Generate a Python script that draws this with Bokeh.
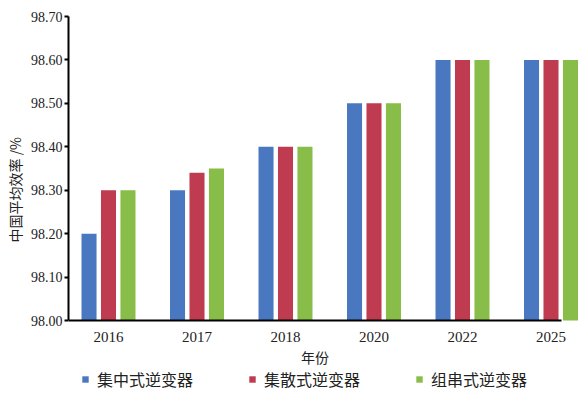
from bokeh.plotting import figure
from bokeh.models import ColumnDataSource, FixedTicker, Legend, LegendItem, NumeralTickFormatter, Title
from bokeh.embed import file_html
from bokeh.resources import INLINE

years = ["2016", "2017", "2018", "2020", "2022", "2025"]
series_names = ["集中式逆变器", "集散式逆变器", "组串式逆变器"]
central = [98.20, 98.30, 98.40, 98.50, 98.60, 98.60]
distributed = [98.30, 98.34, 98.40, 98.50, 98.60, 98.60]
string_inv = [98.30, 98.35, 98.40, 98.50, 98.60, 98.60]
colors = ["#4a78c0", "#bf3b50", "#88bd49"]
y_ticks = [98.0, 98.1, 98.2, 98.3, 98.4, 98.5, 98.6, 98.7]
y_min, y_max = 98.0, 98.7
y_title = "中国平均效率 /%"
x_title = "年份"

px_per_unit = 88.5
x_start = -40 / px_per_unit
x_end = x_start + 512 / px_per_unit
py_per_unit = 304 / (y_max - y_min)
y_start = y_min - 78 / py_per_unit  # room below the axis for labels and legend

p = figure(width=587, height=398, output_backend="svg", toolbar_location=None,
           x_range=(x_start, x_end), y_range=(y_start, y_max),
           min_border_left=68, min_border_right=7, min_border_top=16, min_border_bottom=0)
p.outline_line_color = None
p.xgrid.visible = False
p.ygrid.visible = False
p.background_fill_color = "white"
p.border_fill_color = "white"

xs = list(range(len(years)))
offsets = [-0.22, 0.0, 0.22]
renderers = []
for vals, off, col in zip([central, distributed, string_inv], offsets, colors):
    src = ColumnDataSource(dict(x=[x + off for x in xs], top=vals))
    r = p.vbar(x="x", top="top", bottom=y_min, width=0.17, source=src,
               fill_color=col, line_color=None)
    renderers.append(r)

# x axis
xa = p.xaxis[0]
xa.fixed_location = y_min
xa.ticker = FixedTicker(ticks=xs)
xa.major_label_overrides = {i: y for i, y in enumerate(years)}
xa.bounds = (x_start, (561 - 108) / px_per_unit)
xa.axis_line_width = 2
xa.axis_line_color = "black"
xa.major_tick_line_color = None
xa.minor_tick_line_color = None
xa.major_label_text_font = "Liberation Serif"
xa.major_label_text_font_size = "15px"
xa.major_label_text_color = "#222222"
xa.major_label_standoff = 5
xa.axis_label = x_title
xa.axis_label_text_font = "Noto Sans CJK SC"
xa.axis_label_text_font_size = "14px"
xa.axis_label_text_font_style = "normal"
xa.axis_label_text_color = "#222222"
xa.axis_label_standoff = 2

# y axis
ya = p.yaxis[0]
ya.ticker = FixedTicker(ticks=y_ticks)
ya.bounds = (y_min, y_max)
ya.formatter = NumeralTickFormatter(format="0.00")
ya.axis_line_width = 2
ya.axis_line_color = "black"
ya.major_tick_line_width = 2
ya.major_tick_line_color = "black"
ya.major_tick_out = 4
ya.major_tick_in = 0
ya.minor_tick_line_color = None
ya.major_label_text_font = "Liberation Serif"
ya.major_label_text_font_size = "14px"
ya.major_label_text_color = "#222222"
ya.major_label_standoff = 2

ytitle = Title(text=y_title, align="left", offset=156, standoff=5,
               text_font="Noto Sans CJK SC", text_font_size="14px",
               text_font_style="normal", text_color="#222222")
p.add_layout(ytitle, "left")

legend = Legend(items=[LegendItem(label=n, renderers=[r]) for n, r in zip(series_names, renderers)],
                orientation="horizontal", location=(13, 7),
                glyph_width=8, glyph_height=8, label_standoff=8, spacing=55,
                padding=0, margin=0, border_line_color=None, background_fill_alpha=0,
                label_text_font="Noto Sans CJK SC", label_text_font_size="16px",
                label_text_color="#222222")
p.add_layout(legend, "center")

open("out.html", "w").write(file_html(p, INLINE))
